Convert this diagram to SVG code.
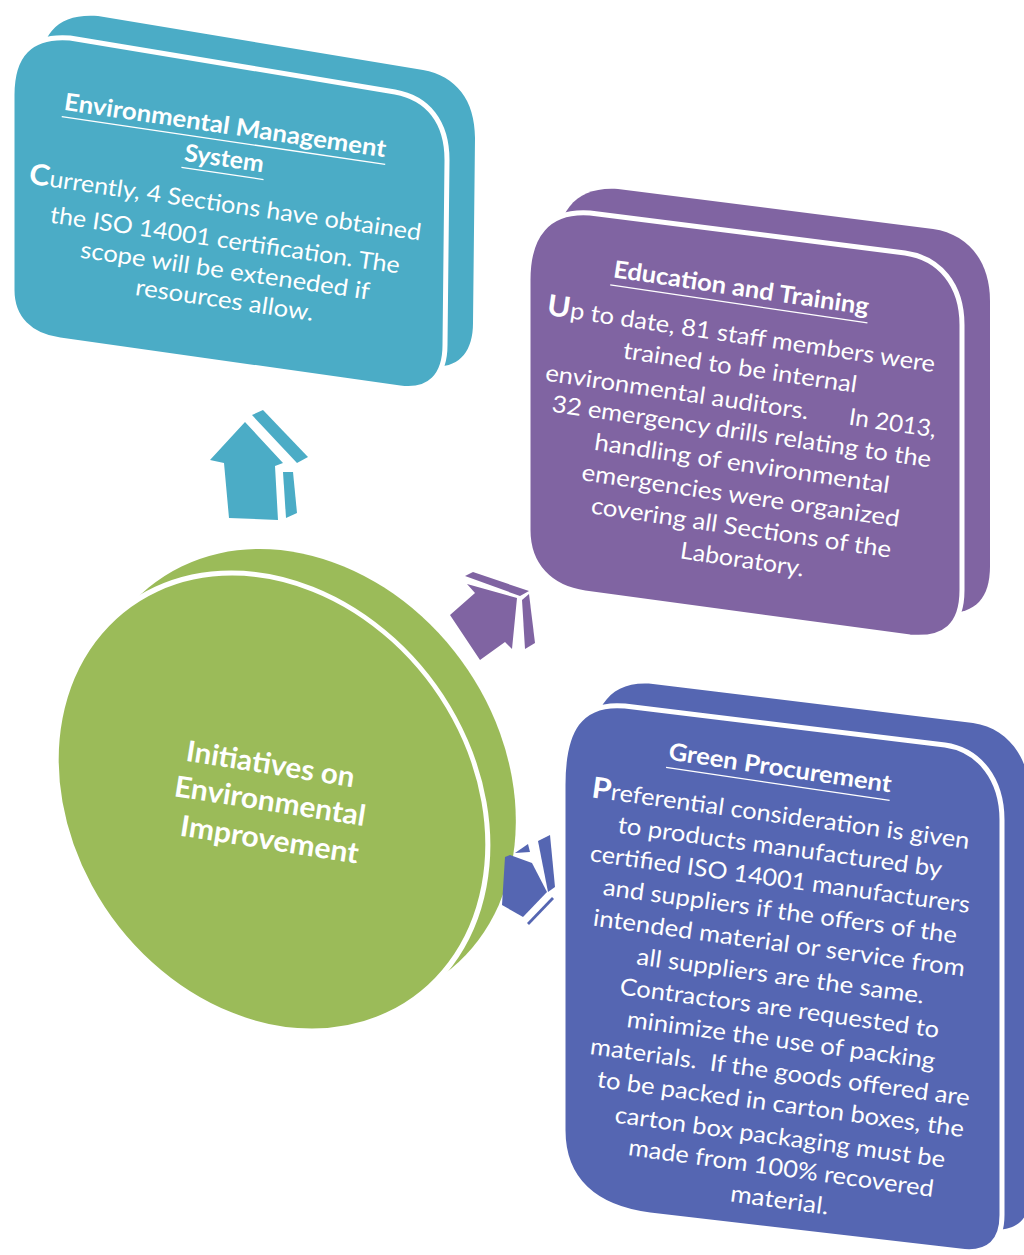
<svg xmlns="http://www.w3.org/2000/svg" xmlns:xlink="http://www.w3.org/1999/xlink" width="1024" height="1255" viewBox="0 0 1024 1255">
<style>
.t{font-family:Lato,"Liberation Sans",sans-serif;fill:#fff;text-anchor:middle}
.h{font-weight:bold;font-size:24px}
.b{font-size:23.5px}
.c{font-size:29px;font-weight:bold}
.ci{font-weight:bold;font-size:29px}
.ul{stroke:#fff;stroke-width:1.3}
.sep{stroke:#fff;stroke-width:5;stroke-linejoin:round}
.teal{fill:#4BACC6}
.purple{fill:#8064A2}
.blue{fill:#5566B2}
.green{fill:#9BBB59}
</style>
<defs>
<path id="fEMS" d="M 12,95 C 12,55 30,35 70,38 L 395,92 C 428,98 447,122 447,160 L 445,345 C 445,375 430,392 400,388 L 60,340 C 30,336 12,318 12,290 Z"/>
<path id="fET" d="M 528,280 C 528,235 548,210 590,213 L 905,253 C 940,258 962,285 962,325 L 962,590 C 962,625 945,640 910,637 L 585,593 C 550,588 528,565 528,530 Z"/>
<path id="fGP" d="M 563,785 C 563,730 580,702 625,706 L 945,745 C 980,750 1002,780 1002,820 L 1002,1215 C 1002,1240 990,1255 960,1251 L 650,1215 C 595,1208 563,1180 563,1130 Z"/>
<ellipse id="fC" cx="0" cy="0" rx="212" ry="229"/>
</defs>

<g id="node-ems">
<use xlink:href="#fEMS" class="teal" transform="translate(28,-22)"/>
<use xlink:href="#fEMS" class="teal sep"/>
<text class="t h" transform="translate(224,133.5) rotate(8.4)" textLength="325" lengthAdjust="spacingAndGlyphs">Environmental Management</text>
<line class="ul" transform="translate(224,133.5) rotate(8.4)" x1="-163" y1="7" x2="164" y2="7"/>
<text class="t h" transform="translate(223,166.5) rotate(8.4)" textLength="80" lengthAdjust="spacingAndGlyphs">System</text>
<line class="ul" transform="translate(223,166.5) rotate(8.4)" x1="-41" y1="7" x2="42" y2="7"/>
<text class="t b" transform="translate(224,212) rotate(8.3)" textLength="396" lengthAdjust="spacingAndGlyphs"><tspan class="c">C</tspan>urrently, 4 Sections have obtained</text>
<text class="t b" transform="translate(224,248) rotate(8.3)" textLength="353" lengthAdjust="spacingAndGlyphs">the ISO 14001 certification. The</text>
<text class="t b" transform="translate(224,278.5) rotate(8.3)" textLength="292" lengthAdjust="spacingAndGlyphs">scope will be exteneded if</text>
<text class="t b" transform="translate(223.5,308) rotate(8.3)" textLength="180" lengthAdjust="spacingAndGlyphs">resources allow.</text>
</g>

<g id="node-et">
<use xlink:href="#fET" class="purple" transform="translate(28,-24)"/>
<use xlink:href="#fET" class="purple sep"/>
<text class="t h" transform="translate(740,296) rotate(8.4)" textLength="258" lengthAdjust="spacingAndGlyphs">Education and Training</text>
<line class="ul" transform="translate(740,296) rotate(8.4)" x1="-130" y1="8" x2="130" y2="8"/>
<text class="t b" transform="translate(740,343.5) rotate(8.4)" textLength="392" lengthAdjust="spacingAndGlyphs"><tspan class="c">U</tspan>p to date, 81 staff members were</text>
<text class="t b" transform="translate(739,375.5) rotate(8.4)" textLength="236" lengthAdjust="spacingAndGlyphs">trained to be internal</text>
<text class="t b" transform="translate(676,400) rotate(8.4)" textLength="266" lengthAdjust="spacingAndGlyphs">environmental auditors.</text>
<text class="t b" transform="translate(891.5,431) rotate(8.4)" textLength="88" lengthAdjust="spacingAndGlyphs">In 2013,</text>
<text class="t b" transform="translate(740.5,439.5) rotate(8.4)" textLength="383" lengthAdjust="spacingAndGlyphs">32 emergency drills relating to the</text>
<text class="t b" transform="translate(741,471.5) rotate(8.4)" textLength="298" lengthAdjust="spacingAndGlyphs">handling of environmental</text>
<text class="t b" transform="translate(739.5,503.5) rotate(8.4)" textLength="321" lengthAdjust="spacingAndGlyphs">emergencies were organized</text>
<text class="t b" transform="translate(740,535.5) rotate(8.4)" textLength="303" lengthAdjust="spacingAndGlyphs">covering all Sections of the</text>
<text class="t b" transform="translate(741,567.5) rotate(8.4)" textLength="125" lengthAdjust="spacingAndGlyphs">Laboratory.</text>
</g>

<g id="node-gp">
<use xlink:href="#fGP" class="blue" transform="translate(28,-22)"/>
<use xlink:href="#fGP" class="blue sep"/>
<text class="t h" transform="translate(779,776) rotate(8.4)" textLength="225" lengthAdjust="spacingAndGlyphs">Green Procurement</text>
<line class="ul" transform="translate(779,776) rotate(8.4)" x1="-113" y1="8" x2="113" y2="8"/>
<text class="t b" transform="translate(779.5,823) rotate(7.8)" textLength="381" lengthAdjust="spacingAndGlyphs"><tspan class="c">P</tspan>referential consideration is given</text>
<text class="t b" transform="translate(779,855) rotate(7.8)" textLength="327" lengthAdjust="spacingAndGlyphs">to products manufactured by</text>
<text class="t b" transform="translate(779,887) rotate(7.8)" textLength="383" lengthAdjust="spacingAndGlyphs">certified ISO 14001 manufacturers</text>
<text class="t b" transform="translate(779,919) rotate(7.8)" textLength="357" lengthAdjust="spacingAndGlyphs">and suppliers if the offers of the</text>
<text class="t b" transform="translate(778,951) rotate(7.8)" textLength="375" lengthAdjust="spacingAndGlyphs">intended material or service from</text>
<text class="t b" transform="translate(779.5,984) rotate(7.8)" textLength="290" lengthAdjust="spacingAndGlyphs">all suppliers are the same.</text>
<text class="t b" transform="translate(778.5,1016) rotate(7.8)" textLength="322" lengthAdjust="spacingAndGlyphs">Contractors are requested to</text>
<text class="t b" transform="translate(780,1048) rotate(7.8)" textLength="311" lengthAdjust="spacingAndGlyphs">minimize the use of packing</text>
<text class="t b" transform="translate(779,1080) rotate(7.8)" textLength="383" lengthAdjust="spacingAndGlyphs" xml:space="preserve">materials.  If the goods offered are</text>
<text class="t b" transform="translate(779.5,1112) rotate(7.8)" textLength="370" lengthAdjust="spacingAndGlyphs">to be packed in carton boxes, the</text>
<text class="t b" transform="translate(779,1145) rotate(7.8)" textLength="333" lengthAdjust="spacingAndGlyphs">carton box packaging must be</text>
<text class="t b" transform="translate(780,1176) rotate(7.8)" textLength="308" lengthAdjust="spacingAndGlyphs">made from 100% recovered</text>
<text class="t b" transform="translate(778.5,1208) rotate(7.8)" textLength="99" lengthAdjust="spacingAndGlyphs">material.</text>
</g>

<g id="node-center">
<use xlink:href="#fC" class="green" transform="translate(300,778) skewX(10)"/>
<use xlink:href="#fC" class="green sep" transform="translate(272,802) skewX(10)"/>
<text class="t ci" transform="translate(269,774) rotate(9)" textLength="170" lengthAdjust="spacingAndGlyphs">Initiatives on</text>
<text class="t ci" transform="translate(268.5,811) rotate(9)" textLength="193" lengthAdjust="spacingAndGlyphs">Environmental</text>
<text class="t ci" transform="translate(268,849.5) rotate(9)" textLength="180" lengthAdjust="spacingAndGlyphs">Improvement</text>
</g>

<g id="connectors">
<g id="arrow-ems" class="teal">
<polygon points="245,422 283,463 275,466 278,520 229,518 224,463 210,460"/>
<polygon points="252,415 263,410 308,457 297,463"/>
<polygon points="283,472 293,472 297,513 286,518"/>
</g>
<g id="arrow-et" class="purple">
<polygon points="517,598 467,584 475,593 450,615 480,660 505,642 512,649"/>
<polygon points="465,576 473,572 529,591 520,596"/>
<polygon points="522,600 529,594 535,643 525,649"/>
</g>
<g id="arrow-gp" class="blue">
<polygon points="510,855 532,863 547,892 523,917 502,905 505,857"/>
<polygon points="515,853 528,844 530,852"/>
<polygon points="538,841 550,835 555,887 548,892"/>
<polygon points="527,923 552,897 554,899 529,925"/>
</g>
</g>
</svg>
